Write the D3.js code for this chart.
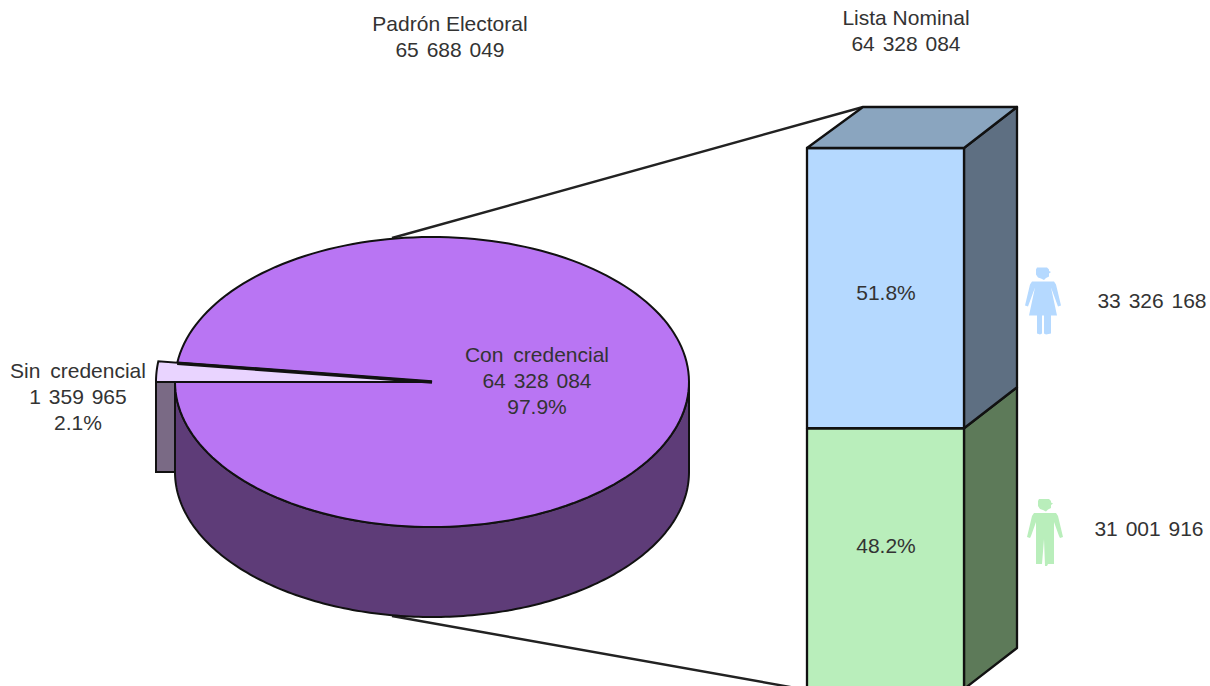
<!DOCTYPE html>
<html><head><meta charset="utf-8">
<script src="https://cdn.jsdelivr.net/npm/d3@7"></script>
<style>
html,body{margin:0;padding:0;background:#fff;overflow:hidden}
text{font-family:"Liberation Sans",Arial,sans-serif;font-size:21px;fill:#333;text-anchor:middle}
</style></head><body><svg id="c" width="1210" height="686"></svg>
<script>
// ---- data ----
const pieCategories = ["Sin credencial", "Con credencial"];
const pieValues = [1359965, 64328084];
const piePercents = ["2.1%", "97.9%"];
const pieCounts = ["1 359 965", "64 328 084"];
const barCategories = ["Hombres", "Mujeres"];
const barValues = [31001916, 33326168];
const barPercents = ["48.2%", "51.8%"];
const barCounts = ["31 001 916", "33 326 168"];
const titles = [["Padrón Electoral", "65 688 049"], ["Lista Nominal", "64 328 084"]];

// ---- styles ----
const c = {pie:"#b975f3", pieSide:"#5e3c78", slice:"#e9d4ff", sliceSide:"#7a6a85",
  front:["#b9eebb","#b5d9ff"], side:["#5d7a59","#5e6f82"], top:"#8aa5bf", ink:"#111"};

const svg = d3.select("#c");
const P = {cx:432, cy:382, rx:257, ry:145, depth:90, exRx:276, exRy:160};
const B = {x0:807, x1:964, dxL:56, dxR:53, dy:-41};

const pt = (a, rx, ry) => [P.cx + rx*Math.sin(a), P.cy - ry*Math.cos(a)];
const arcPts = (a0, a1, rx, ry, dy=0) => d3.range(0, 181).map(i => {
  const p = pt(a0 + (a1-a0)*i/180, rx, ry); return [p[0], p[1]+dy];
});
const line = d3.line();
const slices = d3.pie().sort(null).startAngle(-Math.PI/2).endAngle(1.5*Math.PI)(pieValues);
const [sin, con] = slices;

// connector lines (behind everything)
const y = d3.scaleLinear().domain([0, d3.sum(barValues)]).range([689, 148]);
const conn = svg.append("g").attr("stroke","#222").attr("stroke-width",2.4).attr("fill","none");
conn.append("path").attr("d", line([[392, 238],[B.x0+B.dxL, y.range()[1]+B.dy]]));
conn.append("path").attr("d", line([[392, P.cy+P.ry+P.depth-1],[B.x0, y(0)+1]]));

// pie wall: lower half of ellipse extruded
const lower = arcPts(-Math.PI/2, -1.5*Math.PI, P.rx, P.ry);
const wall = lower.concat(lower.slice().reverse().map(p => [p[0], p[1]+P.depth]));
// exploded slice's side
const sl = arcPts(sin.startAngle, sin.endAngle, P.exRx, P.exRy);
const sideX0 = pt(-Math.PI/2, P.exRx, P.exRy)[0];
svg.append("path").attr("d", line([[sideX0,P.cy],[P.cx-P.rx,P.cy],[P.cx-P.rx,P.cy+P.depth],[sideX0,P.cy+P.depth]])+"Z")
  .attr("fill",c.sliceSide).attr("stroke",c.ink).attr("stroke-width",2);
svg.append("path").attr("d", line(wall)+"Z").attr("fill",c.pieSide).attr("stroke",c.ink).attr("stroke-width",2);

// top of the large slice
svg.append("path").attr("d", line([[P.cx,P.cy]].concat(arcPts(con.startAngle, con.endAngle, P.rx, P.ry)))+"Z")
  .attr("fill",c.pie).attr("stroke",c.ink).attr("stroke-width",2);
// exploded small slice
svg.append("path").attr("d", line([[P.cx,P.cy]].concat(sl))+"Z")
  .attr("fill",c.slice).attr("stroke",c.ink).attr("stroke-width",2).attr("stroke-linejoin","miter");
svg.append("path").attr("d", line([[P.cx,P.cy], pt(sin.endAngle, P.rx, P.ry)]))
  .attr("stroke",c.ink).attr("stroke-width",3.6).attr("fill","none");

// stacked bar
const stack = d3.stack().keys(barCategories)([Object.fromEntries(barCategories.map((k,i)=>[k,barValues[i]]))]);
const bar = svg.append("g").attr("stroke",c.ink).attr("stroke-width",2.3).attr("stroke-linejoin","round");
stack.forEach((s,i) => {
  const [v0,v1] = s[0];
  bar.append("path").attr("d", line([[B.x1,y(v0)],[B.x1+B.dxR,y(v0)+B.dy],[B.x1+B.dxR,y(v1)+B.dy],[B.x1,y(v1)]])+"Z").attr("fill",c.side[i]);
  bar.append("rect").attr("x",B.x0).attr("width",B.x1-B.x0).attr("y",y(v1)).attr("height",y(v0)-y(v1)).attr("fill",c.front[i]);
});
const yTop = y(d3.sum(barValues));
bar.append("path").attr("d", line([[B.x0,yTop],[B.x0+B.dxL,yTop+B.dy],[B.x1+B.dxR,yTop+B.dy],[B.x1,yTop]])+"Z").attr("fill",c.top);

// pictograms (glyph outlines relative to the neck)
const headPts = [[-6,-14],[4,-14],[6,-12],[6,-10.5],[8,-9.5],[6,-8],[6,-5],[3,-3.5],[1,-1.5],[-2,-3],[-5,-4],[-7,-7],[-7,-12]];
const manPts = [[-11,0],[11,0],[13,3],[18,24],[15,25],[14,23],[9,9],[9,51],[3,51],[2,53],[0,53],[-1,26],[-3,51],[-9,51],[-9,9],[-14,23],[-15,25],[-18,24],[-13,3]];
const womanPts = [[-11,0],[11,0],[13,3],[18,24],[15,25],[8,6],[14,34],[8,34],[8,52],[3,53],[1,52],[1,34],[-1,34],[-1,52],[-3,53],[-6,52],[-6,34],[-14,34],[-8,6],[-15,25],[-18,24],[-13,3]];
const icon = (pts,x,yy,fill) => {
  const g = svg.append("g").attr("transform",`translate(${x},${yy})`).attr("fill",fill);
  g.append("path").attr("d", line(headPts)+"Z");
  g.append("path").attr("d", line(pts)+"Z");
};
icon(womanPts, 1043, 281.5, c.front[1]);
icon(manPts, 1045, 513, c.front[0]);

// text
const put = (x, yy, t) => svg.append("text").attr("x",x).attr("y",yy)
  .attr("word-spacing", /credencial/.test(t) ? 4 : /^\d/.test(t) && / /.test(t) ? 2 : 0).text(t);
const lines = (x, ys, strs) => strs.forEach((t,i)=>put(x, ys+i*26, t));
lines(450, 31, titles[0]);
lines(906, 24.5, titles[1]);
lines(537, 362, [pieCategories[1], pieCounts[1], piePercents[1]]);
lines(78, 378, [pieCategories[0], pieCounts[0], piePercents[0]]);
put(886, 300, barPercents[1]);
put(886, 553, barPercents[0]);
put(1152, 308, barCounts[1]);
put(1149, 536, barCounts[0]);
</script></body></html>
